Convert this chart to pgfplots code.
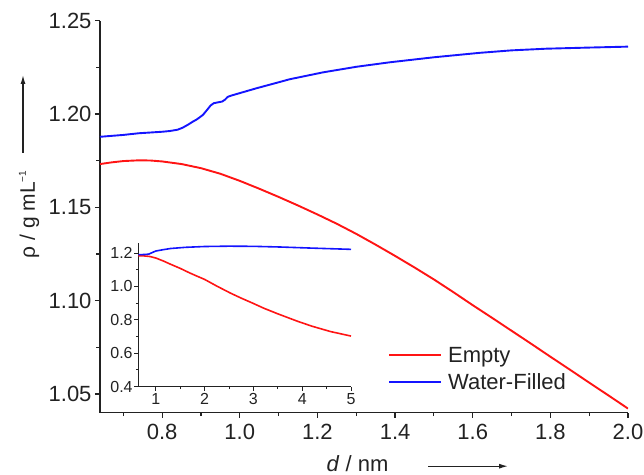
\documentclass[border=0pt]{standalone}
\usepackage{fontspec}
\setmainfont{Liberation Sans}
\usepackage{pgfplots}
\pgfplotsset{compat=1.18}
\usetikzlibrary{arrows.meta}
\definecolor{txt}{RGB}{34,34,34}
\definecolor{cred}{RGB}{255,20,20}
\definecolor{cblue}{RGB}{20,20,255}
\begin{document}
\begin{tikzpicture}[x=1bp,y=1bp]
\useasboundingbox (-100,-62.3) rectangle (544,412.7);
\begin{axis}[
  at={(0,0)}, anchor=south west,
  width=528bp, height=392bp, scale only axis,
  xmin=0.64, xmax=2.0, ymin=1.04, ymax=1.25,
  axis x line*=bottom, axis y line*=left,
  axis line style={line width=1.3bp, color=txt},
  tick align=outside,
  major tick length=5bp, minor tick length=3.5bp,
  every tick/.style={line width=1.2bp, color=txt},
  xtick={0.8,1.0,1.2,1.4,1.6,1.8,2.0},
  minor xtick={0.7,0.9,1.1,1.3,1.5,1.7,1.9},
  ytick={1.05,1.10,1.15,1.20,1.25},
  minor ytick={1.075,1.125,1.175,1.225},
  /pgf/number format/assume math mode=true,
  xticklabel style={/pgf/number format/fixed, /pgf/number format/fixed zerofill, /pgf/number format/precision=1, yshift=-3bp},
  yticklabel style={/pgf/number format/fixed, /pgf/number format/fixed zerofill, /pgf/number format/precision=2},
  tick label style={font=\fontsize{22bp}{26bp}\selectfont, text=txt},
  legend style={at={(0.5455,0.1131)}, anchor=west, draw=none, fill=none,
    inner sep=0pt, row sep=5.7bp, column sep=6bp,
    font=\fontsize{22bp}{26bp}\selectfont, text=txt,
    nodes={inner sep=0pt, text height=18bp, text depth=3bp}},
  legend cell align=left,
  legend image code/.code={\draw[#1] (0bp,0bp) -- (52bp,0bp);},
]
\addplot[cred, line width=1.9bp, line join=round] coordinates {
(0.64,1.1732) (0.67,1.1741) (0.70,1.1748) (0.74,1.1752) (0.77,1.1751) (0.80,1.1746)
(0.85,1.1732) (0.90,1.1710) (0.95,1.1680) (1.00,1.1642) (1.05,1.1600)
(1.10,1.1556) (1.15,1.1510) (1.20,1.1462) (1.25,1.1412) (1.30,1.1358)
(1.35,1.1300) (1.40,1.1240) (1.45,1.1178) (1.50,1.1114) (1.55,1.1046)
(1.60,1.0976) (1.65,1.0908) (1.70,1.0839) (1.75,1.0770) (1.80,1.0700)
(1.85,1.0631) (1.90,1.0561) (1.95,1.0492) (2.00,1.0422)
};
\addlegendentry{Empty}
\addplot[cblue, line width=1.9bp, line join=round] coordinates {
(0.64,1.1878) (0.70,1.1888) (0.74,1.1897) (0.80,1.1905) (0.82,1.1909)
(0.84,1.1916) (0.853,1.1927) (0.866,1.1942) (0.879,1.1959) (0.89,1.1972)
(0.905,1.1995) (0.915,1.2020) (0.925,1.2046) (0.933,1.2058) (0.945,1.2063)
(0.955,1.2067) (0.962,1.2077) (0.969,1.2092) (0.98,1.2100) (1.00,1.2112)
(1.043,1.2138) (1.10,1.2170) (1.128,1.2186) (1.214,1.2223) (1.30,1.2253)
(1.386,1.2277) (1.50,1.2304) (1.619,1.2328) (1.70,1.2341) (1.79,1.2350)
(1.90,1.2356) (2.00,1.2361)
};
\addlegendentry{Water-Filled}
\coordinate (insetpos) at (rel axis cs:0.07254,0.06633);
\end{axis}
\begin{axis}[
  at={(insetpos)}, anchor=south west,
  width=212.7bp, height=143.7bp, scale only axis,
  xmin=0.64, xmax=5, ymin=0.4, ymax=1.26,
  axis x line*=bottom, axis y line*=left,
  axis line style={line width=1.1bp, color=txt},
  tick align=outside,
  major tick length=4bp, minor tick length=2.5bp,
  every tick/.style={line width=1bp, color=txt},
  xtick={1,2,3,4,5}, minor xtick={1.5,2.5,3.5,4.5},
  ytick={0.4,0.6,0.8,1.0,1.2}, minor ytick={0.5,0.7,0.9,1.1},
  /pgf/number format/assume math mode=true,
  yticklabel style={/pgf/number format/fixed, /pgf/number format/fixed zerofill, /pgf/number format/precision=1, inner sep=1.5bp},
  tick label style={font=\fontsize{16bp}{19bp}\selectfont, text=txt},
  xticklabel style={inner sep=2.5bp},
]
\addplot[cred, line width=1.6bp, line join=round] coordinates {
(0.64,1.184) (0.75,1.183) (0.88,1.179) (1.0,1.170) (1.156,1.152) (1.3,1.133)
(1.5,1.108) (1.7,1.080) (1.84,1.062) (2.0,1.042) (2.25,1.002) (2.53,0.960)
(2.75,0.930) (3.0,0.898) (3.21,0.870) (3.5,0.836) (3.9,0.792) (4.2,0.762)
(4.58,0.730) (5.0,0.703)
};
\addplot[cblue, line width=1.6bp, line join=round] coordinates {
(0.64,1.190) (0.75,1.191) (0.85,1.193) (0.95,1.206) (1.0,1.212) (1.15,1.220)
(1.3,1.227) (1.6,1.234) (2.0,1.239) (2.5,1.241) (3.0,1.240) (3.55,1.236)
(4.24,1.229) (5.0,1.222)
};
\end{axis}
\node[font=\fontsize{22bp}{26bp}\selectfont, text=txt, anchor=base] at (257.5,-58.8) {\textit{d} / nm};
\draw[txt, line width=1.2bp, -{Latex[length=9bp,width=5bp]}] (328,-53.5) -- (408,-53.5);
\node[font=\fontsize{21bp}{25bp}\selectfont, text=txt, rotate=90, anchor=base west] at (-65,150.8)
  {ρ / g mL\raisebox{9bp}{\fontsize{10bp}{10bp}\selectfont −1}};
\draw[txt, line width=1.2bp, -{Latex[length=9bp,width=5bp]}] (-77,259.7) -- (-77,337.7);
\end{tikzpicture}
\end{document}
